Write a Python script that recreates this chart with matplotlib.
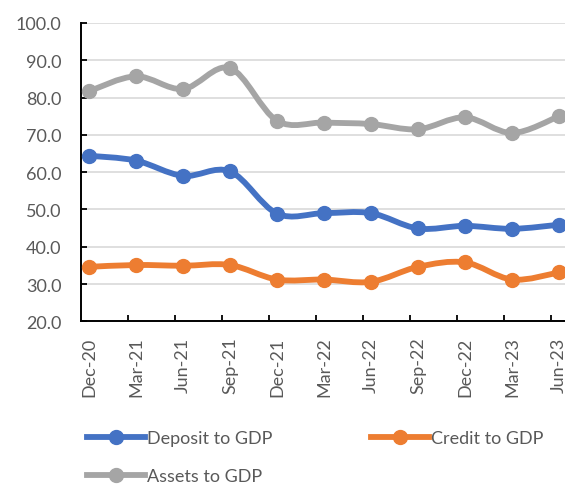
import numpy as np
import matplotlib
matplotlib.use("Agg")
import matplotlib.pyplot as plt
from matplotlib.path import Path
from matplotlib.patches import PathPatch
from matplotlib.lines import Line2D

plt.rcParams["font.family"] = ["Lato", "DejaVu Sans"]

quarters = ["Dec-20", "Mar-21", "Jun-21", "Sep-21", "Dec-21", "Mar-22",
            "Jun-22", "Sep-22", "Dec-22", "Mar-23", "Jun-23"]
deposit_to_gdp = [64.4, 63.1, 59.0, 60.2, 48.9, 49.0, 49.0, 44.9, 45.6, 44.8, 45.9]
credit_to_gdp = [34.6, 35.1, 34.9, 35.1, 31.2, 31.2, 30.6, 34.6, 35.8, 31.2, 33.1]
assets_to_gdp = [81.7, 85.7, 82.3, 87.9, 73.8, 73.3, 72.9, 71.5, 74.7, 70.5, 75.0]

series = [
    ("Deposit to GDP", deposit_to_gdp, "#4472C4"),
    ("Credit to GDP", credit_to_gdp, "#ED7D31"),
    ("Assets to GDP", assets_to_gdp, "#A5A5A5"),
]

TEXT = "#595959"
FS = 13


def smooth_path(x, y):
    """Cubic Bezier path through the points (Catmull-Rom style smoothing)."""
    pts = np.column_stack([x, y]).astype(float)
    n = len(pts)
    verts = [pts[0]]
    codes = [Path.MOVETO]
    for i in range(n - 1):
        p0 = pts[i - 1] if i > 0 else pts[i]
        p1 = pts[i]
        p2 = pts[i + 1]
        p3 = pts[i + 2] if i + 2 < n else pts[i + 1]
        c1 = p1 + (p2 - p0) / 6.0
        c2 = p2 - (p3 - p1) / 6.0
        verts += [c1, c2, p2]
        codes += [Path.CURVE4] * 3
    return Path(verts, codes)


W, H = 565, 485
fig = plt.figure(figsize=(W / 100, H / 100), dpi=100)
left_px, right_px, top_px, bottom_px = 81, 565, 24, 322.3
ax = fig.add_axes([left_px / W, 1 - bottom_px / H,
                   (right_px - left_px) / W, (bottom_px - top_px) / H])

x = np.arange(len(quarters))
for name, vals, color in series:
    patch = PathPatch(smooth_path(x, vals), facecolor="none", edgecolor=color,
                      lw=4.2, capstyle="round", joinstyle="round", zorder=3)
    ax.add_patch(patch)
    ax.plot(x, vals, linestyle="none", marker="o", markersize=10,
            color=color, zorder=4, clip_on=False)

ax.set_yticks(np.arange(20, 101, 10))
ax.set_yticklabels([f"{v:.1f}" for v in np.arange(20, 101, 10)])
ax.yaxis.grid(True, color="#D9D9D9", lw=1.2, zorder=0)
ax.set_axisbelow(True)

# category labels centred on points, tick marks on category boundaries
offset = 8 / 47
ax.set_xticks(x)
ax.set_xticklabels(quarters, rotation=90)
ax.tick_params(axis="x", which="major", length=0, pad=11)
ax.set_xticks(x - offset + 1, minor=True)
ax.tick_params(axis="x", which="minor", direction="in", length=4.3,
               width=1.3, color="black")
ax.tick_params(axis="y", direction="in", length=4.3, width=1.3, pad=14,
               color="black")
ax.tick_params(labelsize=FS, labelcolor=TEXT)

ax.set_xlim(-offset, 10 + (565 - 89 - 470) / 47)
ax.set_ylim(20, 100)

for s in ["top", "right"]:
    ax.spines[s].set_visible(False)
for s in ["left", "bottom"]:
    ax.spines[s].set_color("black")
    ax.spines[s].set_linewidth(1.4)

# legend filled row by row: Deposit, Credit / Assets
order = [0, 2, 1]
handles = [Line2D([], [], color=series[i][2], lw=4.2, marker="o", markersize=10)
           for i in order]
labels = [series[i][0] for i in order]
fig.legend(handles, labels, ncol=2, loc="upper left",
           bbox_to_anchor=(80 / W, 1 - 424 / H), frameon=False,
           fontsize=FS, labelcolor=TEXT, handlelength=3.2, handletextpad=0.1,
           columnspacing=5.5, labelspacing=1.2, borderaxespad=0)

fig.savefig("out.png", dpi=100)
